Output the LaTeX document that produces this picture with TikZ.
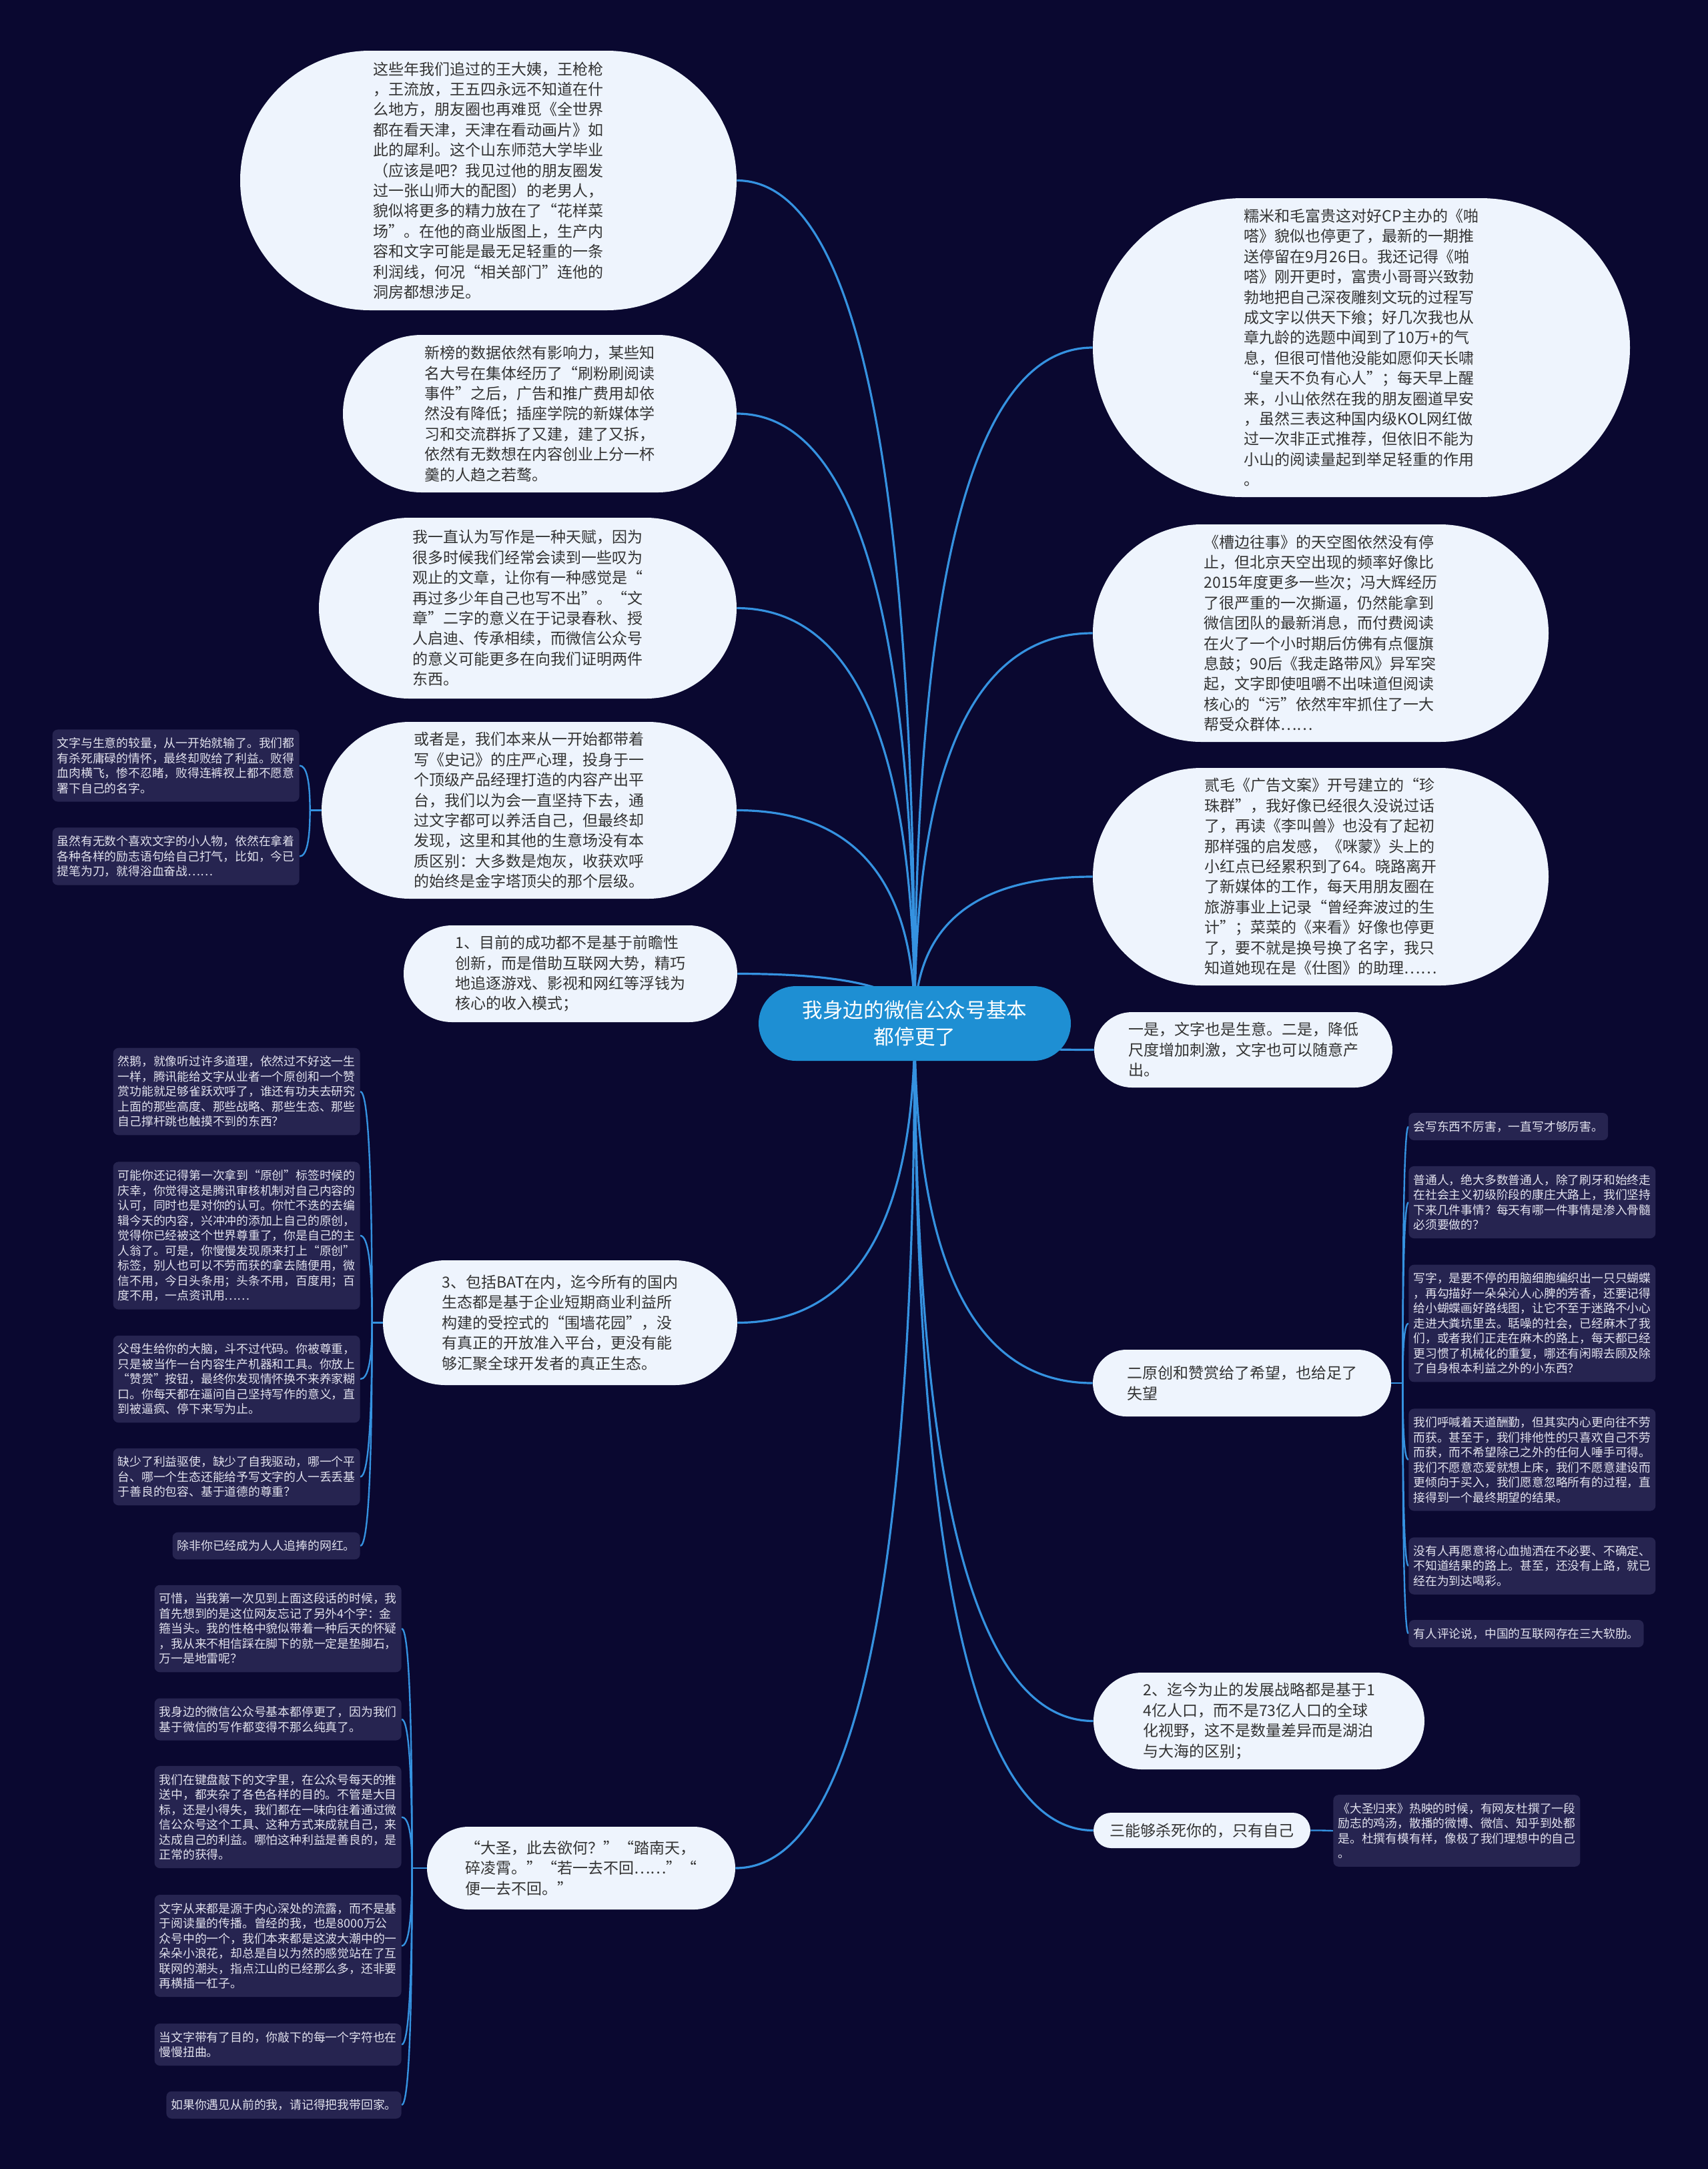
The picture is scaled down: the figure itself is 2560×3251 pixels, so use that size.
\documentclass[tikz,border=0pt]{standalone}
\usepackage{fontspec}
\setmainfont{Noto Sans CJK SC}
\usepackage{tikz}
\usetikzlibrary{shapes.misc,calc,backgrounds}
\definecolor{fondo}{HTML}{0A0830}
\definecolor{burbuja}{HTML}{EEF4FD}
\definecolor{caja}{HTML}{262450}
\definecolor{rama}{HTML}{3592E0}
\definecolor{raiz}{HTML}{1E8FD3}
\definecolor{tinta}{HTML}{333333}
\definecolor{claro}{HTML}{E2E2EE}

\begin{document}
\begin{tikzpicture}[x=0.5pt,y=-0.5pt,
  bub/.style={rounded rectangle,fill=burbuja,text=tinta,inner sep=0pt,align=left,
    font=\fontsize{11.5pt}{15.2pt}\selectfont},
  caj/.style={rectangle,rounded corners=4pt,fill=caja,text=claro,inner xsep=3.5pt,inner ysep=6pt,
    align=left,font=\fontsize{8.9pt}{11.25pt}\selectfont},
  link/.style={draw=rama,line width=1.6pt},
  sublink/.style={draw=rama,line width=1.2pt},
  quadto/.style={to path={.. controls ($(\tikztostart)!2/3!(\tikztostart |- \tikztotarget)$)
    and ($(\tikztotarget)!2/3!(\tikztostart |- \tikztotarget)$) .. (\tikztotarget)}}]
  \useasboundingbox (0,0) rectangle (2560,3251);

  \node[rounded rectangle,fill=raiz,text=white,inner sep=0pt,align=center,minimum width=234pt,minimum height=56pt,
    font=\fontsize{15.3pt}{20pt}\selectfont] (root) at (1371,1534) {我身边的微信公众号基本\\都停更了};

  % izquierda
  \node[bub,minimum width=372pt,minimum height=194.5pt] (L1) at (732,270.5) {这些年我们追过的王大姨，王枪枪\\，王流放，王五四永远不知道在什\\么地方，朋友圈也再难觅《全世界\\都在看天津，天津在看动画片》如\\此的犀利。这个山东师范大学毕业\\（应该是吧？我见过他的朋友圈发\\过一张山师大的配图）的老男人，\\貌似将更多的精力放在了“花样菜\\场”。在他的商业版图上，生产内\\容和文字可能是最无足轻重的一条\\利润线，何况“相关部门”连他的\\洞房都想涉足。};
  \node[bub,minimum width=295pt,minimum height=118pt] (L2) at (809,620) {新榜的数据依然有影响力，某些知\\名大号在集体经历了“刷粉刷阅读\\事件”之后，广告和推广费用却依\\然没有降低；插座学院的新媒体学\\习和交流群拆了又建，建了又拆，\\依然有无数想在内容创业上分一杯\\羹的人趋之若鹜。};
  \node[bub,minimum width=313pt,minimum height=135.5pt] (L3) at (791,911.5) {我一直认为写作是一种天赋，因为\\很多时候我们经常会读到一些叹为\\观止的文章，让你有一种感觉是“\\再过多少年自己也写不出”。“文\\章”二字的意义在于记录春秋、授\\人启迪、传承相续，而微信公众号\\的意义可能更多在向我们证明两件\\东西。};
  \node[bub,minimum width=311pt,minimum height=132.5pt] (L4) at (793,1214.5) {或者是，我们本来从一开始都带着\\写《史记》的庄严心理，投身于一\\个顶级产品经理打造的内容产出平\\台，我们以为会一直坚持下去，通\\过文字都可以养活自己，但最终却\\发现，这里和其他的生意场没有本\\质区别：大多数是炮灰，收获欢呼\\的始终是金字塔顶尖的那个层级。};
  \node[bub,minimum width=250pt,minimum height=72.5pt] (L5) at (855,1459.5) {1、目前的成功都不是基于前瞻性\\创新，而是借助互联网大势，精巧\\地追逐游戏、影视和网红等浮钱为\\核心的收入模式；};
  \node[bub,minimum width=265.5pt,minimum height=93.5pt] (L6) at (839.5,1982.5) {3、包括BAT在内，迄今所有的国内\\生态都是基于企业短期商业利益所\\构建的受控式的“围墙花园”，没\\有真正的开放准入平台，更没有能\\够汇聚全球开发者的真正生态。};
  \node[bub,minimum width=231pt,minimum height=62pt] (L7) at (871,2800) {“大圣，此去欲何？”“踏南天，\\碎凌霄。”“若一去不回……”“\\便一去不回。”};

  % derecha
  \node[bub,minimum width=402.5pt,minimum height=224pt] (R1) at (2040.5,521) {糯米和毛富贵这对好CP主办的《啪\\嗒》貌似也停更了，最新的一期推\\送停留在9月26日。我还记得《啪\\嗒》刚开更时，富贵小哥哥兴致勃\\勃地把自己深夜雕刻文玩的过程写\\成文字以供天下飨；好几次我也从\\章九龄的选题中闻到了10万+的气\\息，但很可惜他没能如愿仰天长啸\\“皇天不负有心人”；每天早上醒\\来，小山依然在我的朋友圈道早安\\，虽然三表这种国内级KOL网红做\\过一次非正式推荐，但依旧不能为\\小山的阅读量起到举足轻重的作用\\。};
  \node[bub,minimum width=341.5pt,minimum height=163pt] (R2) at (1979.5,949) {《槽边往事》的天空图依然没有停\\止，但北京天空出现的频率好像比\\2015年度更多一些次；冯大辉经历\\了很严重的一次撕逼，仍然能拿到\\微信团队的最新消息，而付费阅读\\在火了一个小时期后仿佛有点偃旗\\息鼓；90后《我走路带风》异军突\\起，文字即使咀嚼不出味道但阅读\\核心的“污”依然牢牢抓住了一大\\帮受众群体……};
  \node[bub,minimum width=341.5pt,minimum height=163pt] (R3) at (1979.5,1314) {贰毛《广告文案》开号建立的“珍\\珠群”，我好像已经很久没说过话\\了，再读《李叫兽》也没有了起初\\那样强的启发感，《咪蒙》头上的\\小红点已经累积到了64。晓路离开\\了新媒体的工作，每天用朋友圈在\\旅游事业上记录“曾经奔波过的生\\计”；菜菜的《来看》好像也停更\\了，要不就是换号换了名字，我只\\知道她现在是《仕图》的助理……};
  \node[bub,minimum width=223.5pt,minimum height=56.5pt] (R4) at (1863.5,1573.5) {一是，文字也是生意。二是，降低\\尺度增加刺激，文字也可以随意产\\出。};
  \node[bub,minimum width=223.5pt,minimum height=50pt] (R5) at (1861.5,2073) {二原创和赞赏给了希望，也给足了\\失望};
  \node[bub,minimum width=248pt,minimum height=72.5pt] (R6) at (1887,2579.5) {2、迄今为止的发展战略都是基于1\\4亿人口，而不是73亿人口的全球\\化视野，这不是数量差异而是湖泊\\与大海的区别；};
  \node[bub,minimum width=162.5pt,minimum height=26.5pt] (R7) at (1801.5,2743.5) {三能够杀死你的，只有自己};

  % cajas
  \node[caj,anchor=east] (A1) at (449,1147.5) {文字与生意的较量，从一开始就输了。我们都\\有杀死庸碌的情怀，最终却败给了利益。败得\\血肉横飞，惨不忍睹，败得连裤衩上都不愿意\\署下自己的名字。};
  \node[caj,anchor=east] (A2) at (449,1283.5) {虽然有无数个喜欢文字的小人物，依然在拿着\\各种各样的励志语句给自己打气，比如，今已\\提笔为刀，就得浴血奋战……};

  \node[caj,anchor=east] (B1) at (540,1636) {然鹅，就像听过许多道理，依然过不好这一生\\一样，腾讯能给文字从业者一个原创和一个赞\\赏功能就足够雀跃欢呼了，谁还有功夫去研究\\上面的那些高度、那些战略、那些生态、那些\\自己撑杆跳也触摸不到的东西？};
  \node[caj,anchor=east] (B2) at (540,1852) {可能你还记得第一次拿到“原创”标签时候的\\庆幸，你觉得这是腾讯审核机制对自己内容的\\认可，同时也是对你的认可。你忙不迭的去编\\辑今天的内容，兴冲冲的添加上自己的原创，\\觉得你已经被这个世界尊重了，你是自己的主\\人翁了。可是，你慢慢发现原来打上“原创”\\标签，别人也可以不劳而获的拿去随便用，微\\信不用，今日头条用；头条不用，百度用；百\\度不用，一点资讯用……};
  \node[caj,anchor=east] (B3) at (540,2067) {父母生给你的大脑，斗不过代码。你被尊重，\\只是被当作一台内容生产机器和工具。你放上\\“赞赏”按钮，最终你发现情怀换不来养家糊\\口。你每天都在逼问自己坚持写作的意义，直\\到被逼疯、停下来写为止。};
  \node[caj,anchor=east] (B4) at (540,2213.5) {缺少了利益驱使，缺少了自我驱动，哪一个平\\台、哪一个生态还能给予写文字的人一丢丢基\\于善良的包容、基于道德的尊重？};
  \node[caj,anchor=east] (B5) at (540,2317) {除非你已经成为人人追捧的网红。};

  \node[caj,anchor=west] (C1) at (2111,1688.5) {会写东西不厉害，一直写才够厉害。};
  \node[caj,anchor=west] (C2) at (2111,1802) {普通人，绝大多数普通人，除了刷牙和始终走\\在社会主义初级阶段的康庄大路上，我们坚持\\下来几件事情？每天有哪一件事情是渗入骨髓\\必须要做的？};
  \node[caj,anchor=west] (C3) at (2111,1983.5) {写字，是要不停的用脑细胞编织出一只只蝴蝶\\，再勾描好一朵朵沁人心脾的芳香，还要记得\\给小蝴蝶画好路线图，让它不至于迷路不小心\\走进大粪坑里去。聒噪的社会，已经麻木了我\\们，或者我们正走在麻木的路上，每天都已经\\更习惯了机械化的重复，哪还有闲暇去顾及除\\了自身根本利益之外的小东西？};
  \node[caj,anchor=west] (C4) at (2111,2188) {我们呼喊着天道酬勤，但其实内心更向往不劳\\而获。甚至于，我们排他性的只喜欢自己不劳\\而获，而不希望除己之外的任何人唾手可得。\\我们不愿意恋爱就想上床，我们不愿意建设而\\更倾向于买入，我们愿意忽略所有的过程，直\\接得到一个最终期望的结果。};
  \node[caj,anchor=west] (C5) at (2111,2347) {没有人再愿意将心血抛洒在不必要、不确定、\\不知道结果的路上。甚至，还没有上路，就已\\经在为到达喝彩。};
  \node[caj,anchor=west] (C6) at (2111,2448.5) {有人评论说，中国的互联网存在三大软肋。};

  \node[caj,anchor=east] (D1) at (602,2441) {可惜，当我第一次见到上面这段话的时候，我\\首先想到的是这位网友忘记了另外4个字：金\\箍当头。我的性格中貌似带着一种后天的怀疑\\，我从来不相信踩在脚下的就一定是垫脚石，\\万一是地雷呢？};
  \node[caj,anchor=east] (D2) at (602,2577) {我身边的微信公众号基本都停更了，因为我们\\基于微信的写作都变得不那么纯真了。};
  \node[caj,anchor=east] (D3) at (602,2723.5) {我们在键盘敲下的文字里，在公众号每天的推\\送中，都夹杂了各色各样的目的。不管是大目\\标，还是小得失，我们都在一味向往着通过微\\信公众号这个工具、这种方式来成就自己，来\\达成自己的利益。哪怕这种利益是善良的，是\\正常的获得。};
  \node[caj,anchor=east] (D4) at (602,2916.5) {文字从来都是源于内心深处的流露，而不是基\\于阅读量的传播。曾经的我，也是8000万公\\众号中的一个，我们本来都是这波大潮中的一\\朵朵小浪花，却总是自以为然的感觉站在了互\\联网的潮头，指点江山的已经那么多，还非要\\再横插一杠子。};
  \node[caj,anchor=east] (D5) at (602,3064.5) {当文字带有了目的，你敲下的每一个字符也在\\慢慢扭曲。};
  \node[caj,anchor=east] (D6) at (602,3155) {如果你遇见从前的我，请记得把我带回家。};

  \node[caj,anchor=west] (E1) at (1998,2744) {《大圣归来》热映的时候，有网友杜撰了一段\\励志的鸡汤，散播的微博、微信、知乎到处都\\是。杜撰有模有样，像极了我们理想中的自己\\。};

  \coordinate (L4f) at ($(L4.west)+(-17,0)$);
  \coordinate (L6f) at ($(L6.west)+(-16,0)$);
  \coordinate (L7f) at ($(L7.west)+(-22,0)$);
  \coordinate (R5f) at ($(R5.east)+(17,0)$);
  \coordinate (R7f) at ($(R7.east)+(17,0)$);

  \begin{scope}[on background layer]
   \fill[fondo] (0,0) rectangle (2560,3251);
   \foreach \n in {L1,L2,L3,L4,L5,L6,L7} \draw[link] (root.center) to[quadto] (\n.east);
   \foreach \n in {R1,R2,R3,R4,R5,R6,R7} \draw[link] (root.center) to[quadto] (\n.west);
   \draw[sublink] (L4.west) -- (L4f);
   \foreach \n in {A1,A2} \draw[sublink] (L4f) to[quadto] (\n.east);
   \draw[sublink] (L6.west) -- (L6f);
   \foreach \n in {B1,B2,B3,B4,B5} \draw[sublink] (L6f) to[quadto] (\n.east);
   \draw[sublink] (L7.west) -- (L7f);
   \foreach \n in {D1,D2,D3,D4,D5,D6} \draw[sublink] (L7f) to[quadto] (\n.east);
   \draw[sublink] (R5.east) -- (R5f);
   \foreach \n in {C1,C2,C3,C4,C5,C6} \draw[sublink] (R5f) to[quadto] (\n.west);
   \draw[sublink] (R7.east) -- (R7f) -- (E1.west);
  \end{scope}
\end{tikzpicture}
\end{document}
